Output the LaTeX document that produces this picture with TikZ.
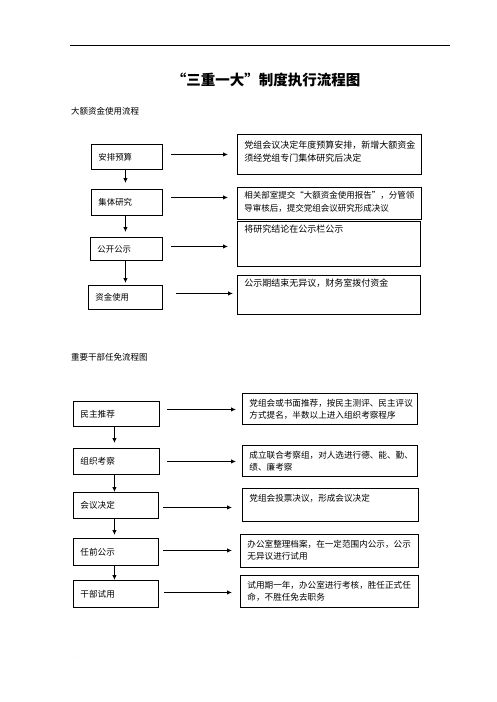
\documentclass[tikz,border=0pt]{standalone}
\usepackage{fontspec}
\newfontfamily\cjk{Noto Sans CJK SC}
\usetikzlibrary{arrows.meta}
\begin{document}
\begin{tikzpicture}[x=1pt,y=-1pt,
  box/.style={draw, line width=0.9pt, anchor=north west, inner xsep=7pt, inner ysep=0pt},
  lboxA/.style={box, align=left, font=\cjk\fontsize{8.4}{10}\selectfont},
  lboxB/.style={box, align=left, font=\cjk\fontsize{8.6}{10}\selectfont},
  rboxA/.style={box, font=\cjk\fontsize{9}{13}\selectfont},
  rboxA2/.style={box, font=\cjk\fontsize{8.5}{12.5}\selectfont},
  rboxB/.style={box, font=\cjk\fontsize{8.6}{12}\selectfont},
  arr/.style={line width=1pt, -{Latex[length=5pt,width=4.5pt]}},
  head/.style={anchor=west, inner sep=0pt, font=\cjk\fontsize{8.5}{10}\selectfont},
  tiny/.style={inner sep=0pt, text=black!45, font=\fontsize{3}{3}\selectfont}
]
\useasboundingbox (0,0) rectangle (496,702);
\fill[white] (0,0) rectangle (496,702);

% header
\draw[line width=1pt] (70,45) -- (450,45);
\node[tiny] (hm) at (447,41) {--};
\node[font=\cjk\bfseries\fontsize{14.5}{16}\selectfont, inner sep=0pt] (title) at (266,80) {“三重一大”制度执行流程图};

% section 1
\node[head] (h1) at (71,111) {大额资金使用流程};

\node[lboxA, minimum width=71, minimum height=25, text width=57] (a1) at (91,144) {安排预算};
\node[lboxA, minimum width=71, minimum height=26, text width=57] (a2) at (91,189) {集体研究};
\node[lboxA, minimum width=72, minimum height=23, text width=58] (a3) at (90,237) {公开公示};
\node[lboxA, minimum width=74, minimum height=24, text width=60] (a4) at (88,285) {资金使用};

\node[rboxA] (r1) at (237,134) {\parbox[c][40pt][t]{170pt}{\rule{0pt}{14pt}党组会议决定年度预算安排，新增大额资金\\须经党组专门集体研究后决定}};
\node[rboxA2] (r2) at (237,187) {\parbox[c][32pt][t]{170pt}{\rule{0pt}{11.5pt}相关部室提交“大额资金使用报告”，分管领\\导审核后，提交党组会议研究形成决议}};
\node[rboxA] (r3) at (237,221) {\parbox[c][45pt][t]{169pt}{\rule{0pt}{11.5pt}将研究结论在公示栏公示}};
\node[rboxA] (r4) at (237,275) {\parbox[c][39pt][t]{169pt}{\rule{0pt}{11.5pt}公示期结束无异议，财务室拨付资金}};

\draw[arr, shorten <=8pt, shorten >=9pt] ([yshift=2.5pt]a1.east) -- ([yshift=2.5pt]a1.east -| r1.west);
\draw[arr, shorten <=8pt, shorten >=9pt] ([yshift=5pt]a2.east) -- ([yshift=5pt]a2.east -| r2.west);
\draw[arr, shorten <=8pt, shorten >=9pt] ([yshift=2.5pt]a3.east) -- ([yshift=2.5pt]a3.east -| r3.west);
\draw[arr, shorten <=13pt, shorten >=4pt] ([yshift=4pt]a4.east) -- ([yshift=4pt]a4.east -| r4.west);

\draw[arr, shorten >=6pt] ([xshift=-1.5pt]a1.south) -- ([xshift=-1.5pt]a1.south |- a2.north);
\draw[arr, shorten >=5pt] ([xshift=-1.5pt]a2.south) -- ([xshift=-1.5pt]a2.south |- a3.north);
\draw[arr, shorten >=2pt] ([xshift=-1pt]a3.south) -- ([xshift=-1pt]a3.south |- a4.north);

% section 2
\node[head] (h2) at (71,357) {重要干部任免流程图};

\node[lboxB, minimum width=86, minimum height=25, text width=72] (b1) at (73,401) {民主推荐};
\node[lboxB, minimum width=86, minimum height=26, text width=72] (b2) at (73,448) {组织考察};
\node[lboxB, minimum width=85, minimum height=26, text width=71] (b3) at (73,492) {会议决定};
\node[lboxB, minimum width=85, minimum height=27, text width=71] (b4) at (73,538) {任前公示};
\node[lboxB, minimum width=85, minimum height=27, text width=71] (b5) at (73,580) {干部试用};

\node[rboxB] (s1) at (242,393) {\parbox[c][31pt][t]{161pt}{\rule{0pt}{13pt}党组会或书面推荐，按民主测评、民主评议\\方式提名，半数以上进入组织考察程序}};
\node[rboxB] (s2) at (242,445) {\parbox[c][31pt][t]{161pt}{\rule{0pt}{13pt}成立联合考察组，对人选进行德、能、勤、\\绩、廉考察}};
\node[rboxB] (s3) at (242,488) {\parbox[c][33pt][t]{162pt}{\rule{0pt}{13pt}党组会投票决议，形成会议决定}};
\node[rboxB] (s4) at (240,534) {\parbox[c][33pt][t]{164pt}{\rule{0pt}{13pt}办公室整理档案，在一定范围内公示，公示\\无异议进行试用}};
\node[rboxB] (s5) at (240,575) {\parbox[c][32pt][t]{164pt}{\rule{0pt}{13pt}试用期一年，办公室进行考核，胜任正式任\\命，不胜任免去职务}};

\draw[arr, shorten <=7pt, shorten >=6pt] ([yshift=4.5pt]b1.east) -- ([yshift=4.5pt]b1.east -| s1.west);
\draw[arr, shorten <=7pt, shorten >=6pt] (b2.east) -- (b2.east -| s2.west);
\draw[arr, shorten <=4pt, shorten >=10pt] ([yshift=-2pt]b3.east) -- ([yshift=-2pt]b3.east -| s3.west);
\draw[arr, shorten <=4pt, shorten >=8pt] ([yshift=1.5pt]b4.east) -- ([yshift=1.5pt]b4.east -| s4.west);
\draw[arr, shorten <=5pt, shorten >=8pt] ([yshift=1.5pt]b5.east) -- ([yshift=1.5pt]b5.east -| s5.west);

\draw[arr, shorten >=5pt] ([xshift=-2pt]b1.south) -- ([xshift=-2pt]b1.south |- b2.north);
\draw[arr] ([xshift=-2pt]b2.south) -- ([xshift=-2pt]b2.south |- b3.north);
\draw[arr, shorten >=3pt] ([xshift=-1.5pt]b3.south) -- ([xshift=-1.5pt]b3.south |- b4.north);
\draw[arr] ([xshift=-1.5pt]b4.south) -- ([xshift=-1.5pt]b4.south |- b5.north);

% footer
\node[tiny, anchor=west] (ft) at (70,657) {. . .};
\end{tikzpicture}
\end{document}
